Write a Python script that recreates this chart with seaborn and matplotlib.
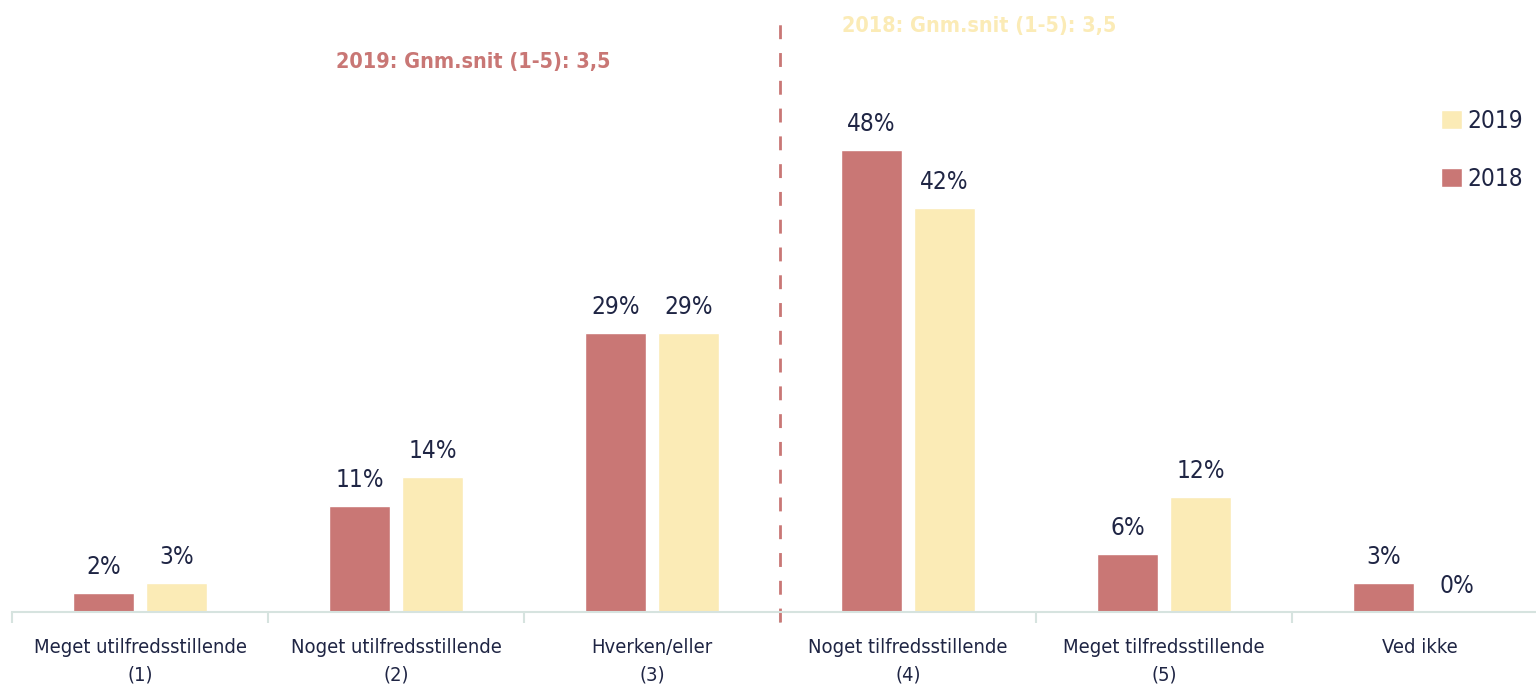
import numpy as np
import pandas as pd
import matplotlib
matplotlib.use("Agg")
import matplotlib.pyplot as plt
import seaborn as sns
from matplotlib.patches import Patch

# --- data ---
categories = [
    "Meget utilfredsstillende\n(1)",
    "Noget utilfredsstillende\n(2)",
    "Hverken/eller\n(3)",
    "Noget tilfredsstillende\n(4)",
    "Meget tilfredsstillende\n(5)",
    "Ved ikke",
]
values_2018 = [2, 11, 29, 48, 6, 3]
values_2019 = [3, 14, 29, 42, 12, 0]
years = ["2018", "2019"]
note_2019 = "2019: Gnm.snit (1-5): 3,5"
note_2018 = "2018: Gnm.snit (1-5): 3,5"

red = "#C97775"
yellow = "#FBEBB6"
navy = "#1F2544"
axis_grey = "#D6E3DF"

df = pd.DataFrame({
    "Kategori": categories * 2,
    "Andel": values_2018 + values_2019,
    "År": [years[0]] * len(categories) + [years[1]] * len(categories),
})

sns.set_theme(style="white")
plt.rcParams["font.family"] = ["DejaVu Sans"]
plt.rcParams["font.stretch"] = "condensed"

fig = plt.figure(figsize=(15.36, 6.87), dpi=100)
ax = fig.add_axes([12 / 1536, 75 / 687, 1524 / 1536, 612 / 687])

sns.barplot(data=df, x="Kategori", y="Andel", hue="År", hue_order=years,
            palette={"2018": red, "2019": yellow}, width=0.57, gap=0.165,
            saturation=1, legend=False, ax=ax)

for cont in ax.containers:
    ax.bar_label(cont, fmt="%d%%", padding=10, fontsize=17.5, color=navy)

ax.set_xlabel("")
ax.set_ylabel("")
ax.set_yticks([])
ax.tick_params(axis="x", which="major", length=0, pad=19, labelsize=14.5, labelcolor=navy)
for lbl in ax.get_xticklabels():
    lbl.set_linespacing(1.55)
ax.set_xticks(np.arange(-0.5, len(categories)), minor=True)
ax.tick_params(axis="x", which="minor", bottom=True, length=8, width=1.5,
               color=axis_grey, direction="out")
# the last category runs past the right edge, as in the original
ax.set_xlim(-0.5, -0.5 + 1524 / 256)
ax.set_ylim(0, 612 / 9.62)
for s in ["top", "right", "left"]:
    ax.spines[s].set_visible(False)
ax.spines["bottom"].set_color(axis_grey)
ax.spines["bottom"].set_linewidth(1.5)

# dashed divider between (3) and (4)
ax.axvline(2.5, ymin=-10 / 612, ymax=(612 - 15) / 612, color=red,
           linestyle=(0, (5, 5)), linewidth=2, clip_on=False)

ax.text(1.30, 57.2, note_2019, color=red, fontsize=15.5, fontweight="bold", ha="center", va="center")
ax.text(3.28, 60.9, note_2018, color=yellow, fontsize=15.5, fontweight="bold", ha="center", va="center")

handles = [Patch(facecolor=yellow, label="2019"), Patch(facecolor=red, label="2018")]
leg = ax.legend(handles=handles, loc="upper right", bbox_to_anchor=(0.998, 0.838), frameon=False,
                fontsize=17.5, handlelength=0.85, handleheight=0.85, handletextpad=0.25,
                labelspacing=1.4, borderaxespad=0)
for t in leg.get_texts():
    t.set_color(navy)

fig.savefig("out.png", dpi=100)
